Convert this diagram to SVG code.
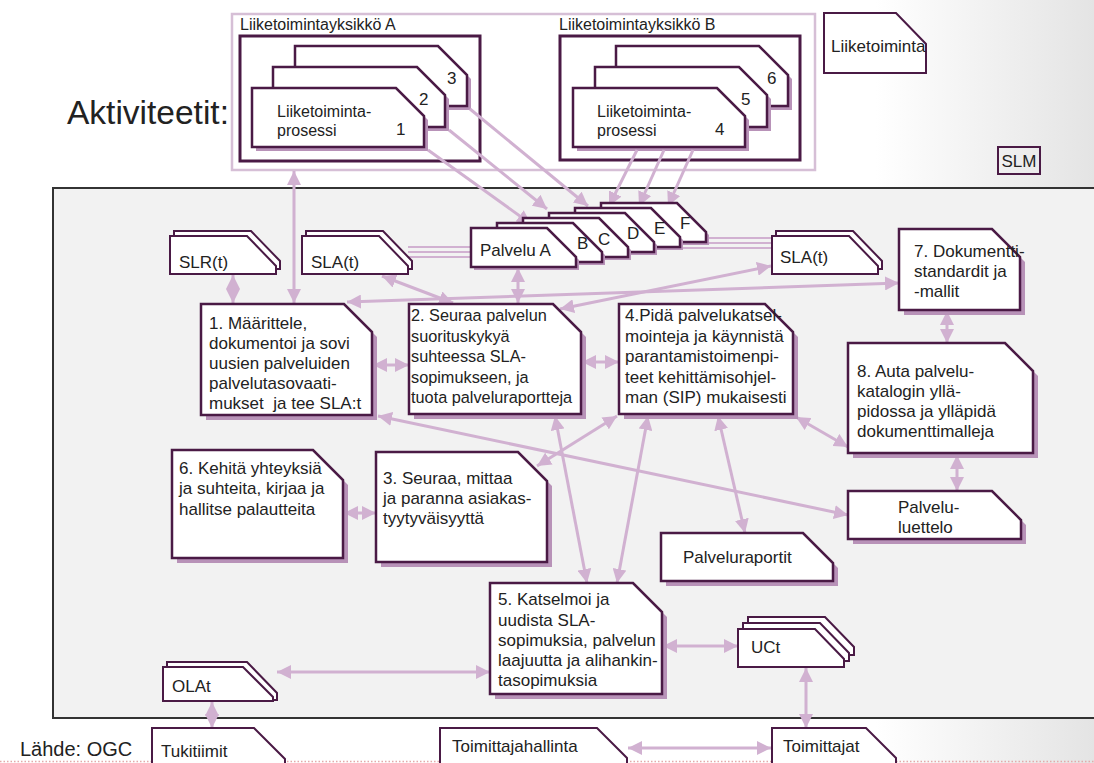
<svg xmlns="http://www.w3.org/2000/svg" xmlns:xlink="http://www.w3.org/1999/xlink" width="1094" height="763" viewBox="0 0 1094 763">
  <defs>
    <linearGradient id="pageBg" x1="0" y1="0" x2="1" y2="0">
      <stop offset="0" stop-color="#ffffff"/>
      <stop offset="0.8" stop-color="#ffffff"/>
      <stop offset="1" stop-color="#e4e4e4"/>
    </linearGradient>
    <marker id="ah" markerUnits="userSpaceOnUse" markerWidth="15" markerHeight="14" refX="14" refY="7" orient="auto-start-reverse" viewBox="0 0 15 14">
      <path d="M0,0 L14,7 L0,14 Z" fill="#d1b1d1"/>
    </marker>
    <!-- cut-corner shapes: M x y H x+w-c L x+w y+c V y+h H x Z -->
    <path id="pA3" d="M295 46 H438 L467 75 V106 H295 Z"/>
    <path id="pA2" d="M273 67 H417 L445 95 V127 H273 Z"/>
    <path id="pA1" d="M252 88 H396 L424 116 V147 H252 Z"/>
    <path id="pB6" d="M616 46 H759 L788 75 V106 H616 Z"/>
    <path id="pB5" d="M595 67 H739 L767 95 V127 H595 Z"/>
    <path id="pB4" d="M573 88 H717 L745 116 V147 H573 Z"/>
    <path id="pN1" d="M201 304 H344 L372 332 V415 H201 Z"/>
    <path id="pN2" d="M409 304 H553 L581 332 V414 H409 Z"/>
    <path id="pN4" d="M619 304 H765 L793 332 V414 H619 Z"/>
    <path id="pN6" d="M172 450 H313 L343 480 V558 H172 Z"/>
    <path id="pN3" d="M376 452 H518 L547 481 V562 H376 Z"/>
    <path id="pN5" d="M490 583 H633 L662 612 V694 H490 Z"/>
    <path id="pN7" d="M899 229 H992 L1020 257 V310 H899 Z"/>
    <path id="pN8" d="M848 343 H1005 L1033 371 V453 H848 Z"/>
    <path id="pRap" d="M661 533 H803 L833 563 V581 H661 Z"/>
    <path id="pLue" d="M848 491 H992 L1021 520 V539 H848 Z"/>
    <path id="pPal" d="M0 0 H76 L105 29 V39 H0 Z"/>
    <path id="pDoc" d="M0 0 H77 L106 30 V38 H0 Z"/>
  </defs>

  <style>
    .t { font-family: "Liberation Sans", Arial, sans-serif; font-size: 17px; fill: #222; }
    .card { fill: #fff; stroke: #4a1a45; stroke-width: 2.5; stroke-linejoin: miter; }
    .thin { fill: #fff; stroke: #4a1a45; stroke-width: 2; }
    .shadow { fill: #b892b8; stroke: none; }
    .frame { fill: none; stroke: #4a1a45; stroke-width: 3; }
    .conn { fill: none; stroke: #d1b1d1; stroke-width: 3; marker-start: url(#ah); marker-end: url(#ah); }
    .one { marker-start: none; }
    .par { fill: none; stroke: #d1b1d1; stroke-width: 1.8; }
  </style>

  <!-- page background -->
  <rect x="0" y="0" width="1094" height="763" fill="url(#pageBg)"/>
  <line x1="0" y1="761.5" x2="1094" y2="761.5" stroke="#e3a9a9" stroke-width="1.5" stroke-dasharray="1.5 2"/>

  <!-- service level management area -->
  <rect x="53" y="188" width="1060" height="530" fill="#f2f2f2" stroke="#333" stroke-width="2"/>

  <text class="t" x="67" y="124" style="font-size:33.5px">Aktiviteetit:</text>
  <text class="t" x="20" y="756" style="font-size:20px">Lähde: OGC</text>

  <!-- business area frame -->
  <g id="liiketoiminta-frame">
    <rect x="232" y="14" width="583" height="156" fill="#fff" stroke="#d6bfd6" stroke-width="2.5"/>
  </g>

  <g id="yksikko-a">
    <text class="t" x="240" y="30" style="font-size:16px">Liiketoimintayksikkö A</text>
    <rect class="frame" x="240" y="36" width="240" height="125"/>
    <use xlink:href="#pA3" class="shadow" transform="translate(4,4)"/>
    <use xlink:href="#pA3" class="card"/>
    <text class="t" x="447" y="84">3</text>
    <use xlink:href="#pA2" class="shadow" transform="translate(4,4)"/>
    <use xlink:href="#pA2" class="card"/>
    <text class="t" x="419" y="105">2</text>
    <use xlink:href="#pA1" class="shadow" transform="translate(4,4)"/>
    <use xlink:href="#pA1" class="card"/>
    <text class="t" x="277" y="117" style="font-size:16px">Liiketoiminta-</text>
    <text class="t" x="277" y="136" style="font-size:16px">prosessi</text>
    <text class="t" x="396" y="135">1</text>
  </g>

  <g id="yksikko-b">
    <text class="t" x="559" y="30" style="font-size:16px">Liiketoimintayksikkö B</text>
    <rect class="frame" x="560" y="36" width="240" height="124"/>
    <use xlink:href="#pB6" class="shadow" transform="translate(4,4)"/>
    <use xlink:href="#pB6" class="card"/>
    <text class="t" x="767" y="84">6</text>
    <use xlink:href="#pB5" class="shadow" transform="translate(4,4)"/>
    <use xlink:href="#pB5" class="card"/>
    <text class="t" x="741" y="105">5</text>
    <use xlink:href="#pB4" class="shadow" transform="translate(4,4)"/>
    <use xlink:href="#pB4" class="card"/>
    <text class="t" x="597" y="117" style="font-size:16px">Liiketoiminta-</text>
    <text class="t" x="597" y="136" style="font-size:16px">prosessi</text>
    <text class="t" x="715" y="135">4</text>
  </g>

  <g id="liiketoiminta">
    <path class="thin" d="M824 13 H896 L926 44 V73 H824 Z"/>
    <text class="t" x="831" y="52">Liiketoiminta</text>
  </g>

  <g id="slm">
    <rect x="998" y="147" width="42" height="27" fill="none" stroke="#4a1a45" stroke-width="2"/>
    <text class="t" x="1019" y="167" text-anchor="middle">SLM</text>
  </g>

  <!-- connectors -->
  <g id="connectors">
    <!-- contract bundles through the service cards -->
    <line class="par" x1="408" y1="247" x2="472" y2="247"/>
    <line class="par" x1="408" y1="252" x2="472" y2="252"/>
    <line class="par" x1="408" y1="257" x2="472" y2="257"/>
    <line class="par" x1="650" y1="238" x2="772" y2="238"/>
    <line class="par" x1="650" y1="243" x2="772" y2="243"/>
    <line class="par" x1="650" y1="248" x2="772" y2="248"/>
    <!-- processes to services -->
    <line class="conn one" x1="428" y1="150" x2="531" y2="224"/>
    <line class="conn one" x1="449" y1="130" x2="547" y2="209"/>
    <line class="conn one" x1="470" y1="109" x2="588" y2="206"/>
    <line class="conn one" x1="637" y1="150" x2="609" y2="206"/>
    <line class="conn one" x1="664" y1="150" x2="639" y2="206"/>
    <line class="conn one" x1="693" y1="150" x2="668" y2="206"/>
    <!-- double-headed links -->
    <line class="conn" x1="294" y1="171" x2="294" y2="303"/>
    <line class="conn" x1="233" y1="275" x2="233" y2="303"/>
    <line class="conn" x1="518" y1="268" x2="518" y2="303"/>
    <line class="conn" x1="382" y1="276" x2="453" y2="303"/>
    <line class="conn" x1="347" y1="302" x2="899" y2="283"/>
    <line class="conn" x1="560" y1="309" x2="771" y2="266"/>
    <line class="conn" x1="373" y1="365" x2="409" y2="365"/>
    <line class="conn" x1="582" y1="362" x2="619" y2="362"/>
    <line class="conn" x1="947" y1="311" x2="947" y2="343"/>
    <line class="conn" x1="617" y1="416" x2="537" y2="466"/>
    <line class="conn" x1="378" y1="416" x2="848" y2="515"/>
    <line class="conn" x1="555" y1="416" x2="587" y2="583"/>
    <line class="conn" x1="648" y1="416" x2="617" y2="583"/>
    <line class="conn" x1="718" y1="416" x2="745" y2="533"/>
    <line class="conn" x1="796" y1="417" x2="848" y2="447"/>
    <line class="conn" x1="957" y1="455" x2="957" y2="491"/>
    <line class="conn" x1="344" y1="513" x2="376" y2="513"/>
    <line class="conn" x1="663" y1="646" x2="738" y2="646"/>
    <line class="conn" x1="277" y1="672" x2="490" y2="672"/>
    <line class="conn" x1="212" y1="702" x2="212" y2="728"/>
    <line class="conn" x1="806" y1="668" x2="806" y2="728"/>
    <line class="conn" x1="628" y1="748" x2="771" y2="748"/>
  </g>

  <g id="slr">
    <use xlink:href="#pDoc" class="thin" transform="translate(174,231)"/>
    <use xlink:href="#pDoc" class="thin" transform="translate(170,236)"/>
    <text class="t" x="179" y="268">SLR(t)</text>
  </g>

  <g id="sla-vasen">
    <use xlink:href="#pDoc" class="thin" transform="translate(306,231)"/>
    <use xlink:href="#pDoc" class="thin" transform="translate(302,236)"/>
    <text class="t" x="311" y="268">SLA(t)</text>
  </g>

  <g id="palvelut">
    <use xlink:href="#pPal" class="shadow" transform="translate(604,206)"/>
    <use xlink:href="#pPal" class="card" transform="translate(601,203)"/>
    <text class="t" x="680" y="229">F</text>
    <use xlink:href="#pPal" class="shadow" transform="translate(578,211)"/>
    <use xlink:href="#pPal" class="card" transform="translate(575,208)"/>
    <text class="t" x="654" y="234">E</text>
    <use xlink:href="#pPal" class="shadow" transform="translate(552,216)"/>
    <use xlink:href="#pPal" class="card" transform="translate(549,213)"/>
    <text class="t" x="627" y="239">D</text>
    <use xlink:href="#pPal" class="shadow" transform="translate(526,221)"/>
    <use xlink:href="#pPal" class="card" transform="translate(523,218)"/>
    <text class="t" x="598" y="245">C</text>
    <use xlink:href="#pPal" class="shadow" transform="translate(500,226)"/>
    <use xlink:href="#pPal" class="card" transform="translate(497,223)"/>
    <text class="t" x="577" y="249">B</text>
    <use xlink:href="#pPal" class="shadow" transform="translate(474,231)"/>
    <use xlink:href="#pPal" class="card" transform="translate(471,228)"/>
    <text class="t" x="480" y="256">Palvelu A</text>
  </g>

  <g id="sla-oikea">
    <use xlink:href="#pDoc" class="thin" transform="translate(776,231)"/>
    <use xlink:href="#pDoc" class="thin" transform="translate(772,236)"/>
    <text class="t" x="780" y="263">SLA(t)</text>
  </g>

  <g id="n1">
    <use xlink:href="#pN1" class="shadow" transform="translate(5,5)"/>
    <use xlink:href="#pN1" class="card"/>
    <text class="t" x="209" y="329">1. Määrittele,</text>
    <text class="t" x="209" y="349">dokumentoi ja sovi</text>
    <text class="t" x="209" y="369">uusien palveluiden</text>
    <text class="t" x="209" y="389">palvelutasovaati-</text>
    <text class="t" x="209" y="409">mukset&#160; ja tee SLA:t</text>
  </g>

  <g id="n2">
    <use xlink:href="#pN2" class="shadow" transform="translate(5,5)"/>
    <use xlink:href="#pN2" class="card"/>
    <text class="t" x="411" y="321" style="font-size:16.3px">2. Seuraa palvelun</text>
    <text class="t" x="411" y="341.5" style="font-size:16.3px">suorituskykyä</text>
    <text class="t" x="411" y="362" style="font-size:16.3px">suhteessa SLA-</text>
    <text class="t" x="411" y="382.5" style="font-size:16.3px">sopimukseen, ja</text>
    <text class="t" x="411" y="403" style="font-size:16.3px">tuota palveluraportteja</text>
  </g>

  <g id="n4">
    <use xlink:href="#pN4" class="shadow" transform="translate(5,5)"/>
    <use xlink:href="#pN4" class="card"/>
    <text class="t" x="625" y="321">4.Pidä palvelukatsel-</text>
    <text class="t" x="625" y="341.5">mointeja ja käynnistä</text>
    <text class="t" x="625" y="362">parantamistoimenpi-</text>
    <text class="t" x="625" y="382.5">teet kehittämisohjel-</text>
    <text class="t" x="625" y="403">man (SIP) mukaisesti</text>
  </g>

  <g id="n7">
    <use xlink:href="#pN7" class="shadow" transform="translate(5,5)"/>
    <use xlink:href="#pN7" class="card"/>
    <text class="t" x="914" y="257">7. Dokumentti-</text>
    <text class="t" x="914" y="277">standardit ja</text>
    <text class="t" x="914" y="297">-mallit</text>
  </g>

  <g id="n8">
    <use xlink:href="#pN8" class="shadow" transform="translate(5,5)"/>
    <use xlink:href="#pN8" class="card"/>
    <text class="t" x="857" y="377">8. Auta palvelu-</text>
    <text class="t" x="857" y="397">katalogin yllä-</text>
    <text class="t" x="857" y="417">pidossa ja ylläpidä</text>
    <text class="t" x="857" y="437">dokumenttimalleja</text>
  </g>

  <g id="n6">
    <use xlink:href="#pN6" class="shadow" transform="translate(5,5)"/>
    <use xlink:href="#pN6" class="card"/>
    <text class="t" x="179" y="474">6. Kehitä yhteyksiä</text>
    <text class="t" x="179" y="494">ja suhteita, kirjaa ja</text>
    <text class="t" x="179" y="515">hallitse palautteita</text>
  </g>

  <g id="n3">
    <use xlink:href="#pN3" class="shadow" transform="translate(5,5)"/>
    <use xlink:href="#pN3" class="card"/>
    <text class="t" x="383" y="484">3. Seuraa, mittaa</text>
    <text class="t" x="383" y="504">ja paranna asiakas-</text>
    <text class="t" x="383" y="524">tyytyväisyyttä</text>
  </g>

  <g id="palveluluettelo">
    <use xlink:href="#pLue" class="shadow" transform="translate(5,5)"/>
    <use xlink:href="#pLue" class="card"/>
    <text class="t" x="898" y="513">Palvelu-</text>
    <text class="t" x="898" y="533">luettelo</text>
  </g>

  <g id="palveluraportit">
    <use xlink:href="#pRap" class="shadow" transform="translate(5,5)"/>
    <use xlink:href="#pRap" class="card"/>
    <text class="t" x="683" y="563">Palveluraportit</text>
  </g>

  <g id="n5">
    <use xlink:href="#pN5" class="shadow" transform="translate(5,5)"/>
    <use xlink:href="#pN5" class="card"/>
    <text class="t" x="498" y="605">5. Katselmoi ja</text>
    <text class="t" x="498" y="626">uudista SLA-</text>
    <text class="t" x="498" y="646">sopimuksia, palvelun</text>
    <text class="t" x="498" y="666">laajuutta ja alihankin-</text>
    <text class="t" x="498" y="686">tasopimuksia</text>
  </g>

  <g id="uct">
    <use xlink:href="#pDoc" class="thin" transform="translate(748,617)"/>
    <use xlink:href="#pDoc" class="thin" transform="translate(743,623)"/>
    <use xlink:href="#pDoc" class="thin" transform="translate(738,629)"/>
    <text class="t" x="751" y="653">UCt</text>
  </g>

  <g id="olat">
    <path class="thin" d="M167 662 H247 L277 693 V700 H167 Z"/>
    <path class="thin" d="M163 667 H243 L273 697 V701 H163 Z"/>
    <text class="t" x="172" y="692">OLAt</text>
  </g>

  <g id="tukitiimit">
    <path class="thin" d="M152 728 H254 L285 759 V790 H152 Z"/>
    <text class="t" x="161" y="757">Tukitiimit</text>
  </g>

  <g id="toimittajahallinta">
    <path class="thin" d="M440 728 H597 L627 758 V790 H440 Z"/>
    <text class="t" x="452" y="752">Toimittajahallinta</text>
  </g>

  <g id="toimittajat">
    <path class="thin" d="M772 728 H866 L896 758 V790 H772 Z"/>
    <text class="t" x="783" y="752">Toimittajat</text>
  </g>
</svg>
